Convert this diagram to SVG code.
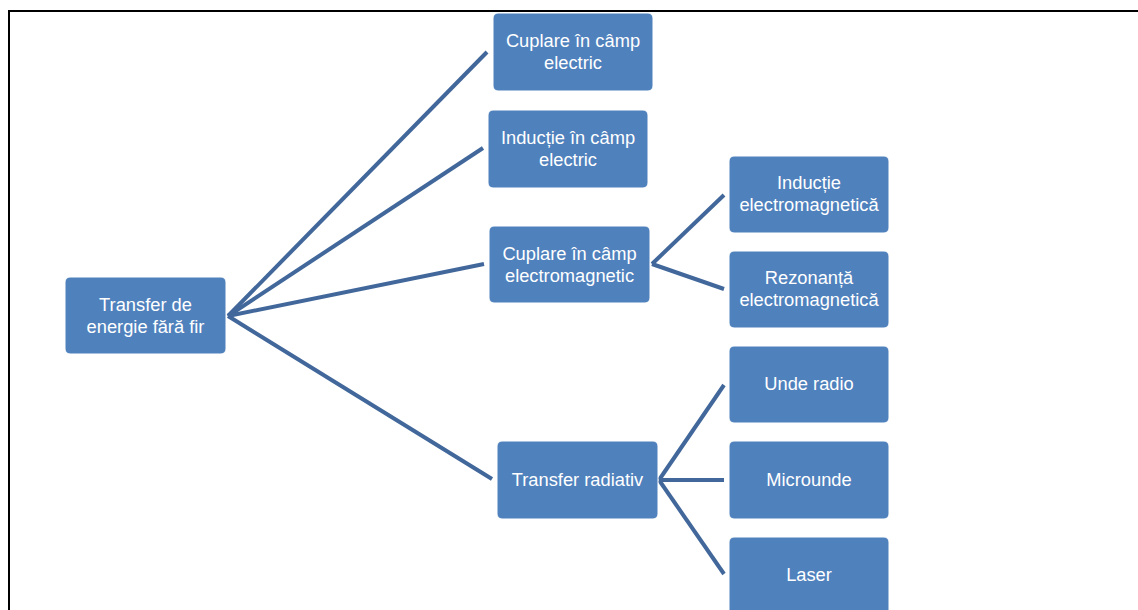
<svg xmlns="http://www.w3.org/2000/svg" width="1138" height="610" viewBox="0 0 1138 610">
<style>
.box{fill:#4f81bd;stroke:#ffffff;stroke-width:1}
.t{font-family:"Liberation Sans",Arial,sans-serif;font-size:18.3px;fill:#ffffff;text-anchor:middle}
.c{stroke:#41679b;stroke-width:4;fill:none;stroke-linecap:butt}
.frame{stroke:#000000;stroke-width:2;fill:none}
</style>
<rect x="0" y="0" width="1138" height="610" fill="#ffffff"/>
<path class="frame" d="M9,610 V11 H1138"/>
<g id="connectors">
<line class="c" x1="228" y1="316" x2="487" y2="52"/>
<line class="c" x1="228" y1="316" x2="483" y2="148"/>
<line class="c" x1="228" y1="316" x2="484" y2="264"/>
<line class="c" x1="228" y1="316" x2="492" y2="479"/>
<line class="c" x1="652" y1="264" x2="724" y2="195"/>
<line class="c" x1="652" y1="264" x2="724" y2="289"/>
<line class="c" x1="659" y1="480" x2="724" y2="385"/>
<line class="c" x1="659" y1="480" x2="724" y2="480"/>
<line class="c" x1="659" y1="480" x2="724" y2="574"/>
</g>
<g id="root">
<rect class="box" x="65" y="277" width="161" height="77" rx="5"/>
<text class="t" x="145.5" y="311">Transfer de</text>
<text class="t" x="145.5" y="333">energie fără fir</text>
</g>
<g id="n_cuplare_electric">
<rect class="box" x="493" y="13" width="160" height="78" rx="5"/>
<text class="t" x="573" y="47">Cuplare în câmp</text>
<text class="t" x="573" y="69">electric</text>
</g>
<g id="n_inductie_electric">
<rect class="box" x="488" y="110" width="160" height="78" rx="5"/>
<text class="t" x="568" y="144">Inducție în câmp</text>
<text class="t" x="568" y="166">electric</text>
</g>
<g id="n_cuplare_em">
<rect class="box" x="489" y="226" width="161" height="77" rx="5"/>
<text class="t" x="569.5" y="260">Cuplare în câmp</text>
<text class="t" x="569.5" y="282">electromagnetic</text>
</g>
<g id="n_transfer_radiativ">
<rect class="box" x="497" y="441" width="161" height="78" rx="5"/>
<text class="t" x="577.5" y="486">Transfer radiativ</text>
</g>
<g id="n_inductie_em">
<rect class="box" x="729" y="156" width="160" height="77" rx="5"/>
<text class="t" x="809" y="189">Inducție</text>
<text class="t" x="809" y="211">electromagnetică</text>
</g>
<g id="n_rezonanta_em">
<rect class="box" x="729" y="251" width="160" height="77" rx="5"/>
<text class="t" x="809" y="284">Rezonanță</text>
<text class="t" x="809" y="306">electromagnetică</text>
</g>
<g id="n_unde_radio">
<rect class="box" x="729" y="346" width="160" height="77" rx="5"/>
<text class="t" x="809" y="390">Unde radio</text>
</g>
<g id="n_microunde">
<rect class="box" x="729" y="441" width="160" height="78" rx="5"/>
<text class="t" x="809" y="486">Microunde</text>
</g>
<g id="n_laser">
<rect class="box" x="729" y="537" width="160" height="78" rx="5"/>
<text class="t" x="809" y="581">Laser</text>
</g>
</svg>
